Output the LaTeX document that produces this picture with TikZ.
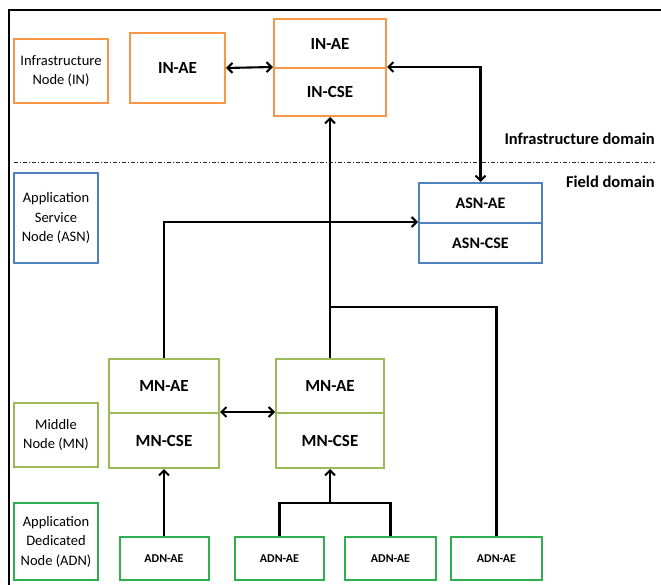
\documentclass[tikz,border=0pt]{standalone}
\usepackage{fontspec}
\setmainfont{Carlito}
\usetikzlibrary{arrows.meta}
\definecolor{inorange}{HTML}{F79646}
\definecolor{asnblue}{HTML}{4F81BD}
\definecolor{mngreen}{HTML}{9BBB59}
\definecolor{adngreen}{HTML}{2EAF50}
\tikzset{
  box/.style={draw, line width=2pt, inner sep=0pt, align=center, fill=white, text=black},
  lbl/.style={box, font=\fontsize{14.5}{19.5}\selectfont},
  big/.style={box, font=\fontsize{17}{19}\selectfont\bfseries},
  small/.style={box, font=\fontsize{12}{14}\selectfont\bfseries},
  conn/.style={line width=2.1pt, black},
  tip/.style={-{Straight Barb[length=5pt,width=10pt]}},
  dtip/.style={{Straight Barb[length=5pt,width=10pt]}-{Straight Barb[length=5pt,width=10pt]}},
  dom/.style={font=\fontsize{16.5}{18}\selectfont\bfseries, anchor=east, inner sep=0pt}
}
\begin{document}
\begin{tikzpicture}[x=1pt, y=-1pt]
\useasboundingbox (0,0) rectangle (661,585);
% frame
\coordinate (fb) at (9,585);
\coordinate (fc) at (9,10);
\coordinate (fr) at (661,10);
\draw[line width=2.5pt] (fb) -- (fc) -- (fr);
% domain separator
\coordinate (dl) at (14,162);
\coordinate (dr) at (655,162);
\draw[line width=0.9pt, black!85, dash pattern=on 4pt off 2pt on 1pt off 2pt] (dl) -- (dr);
\node[dom] (infdom) at (655,139) {Infrastructure domain};
\node[dom] (fielddom) at (655,182) {Field domain};
% left labels
\node[lbl, draw=inorange, minimum width=94pt, minimum height=64pt] (lblin) at (61,71) {Infrastructure\\Node (IN)};
\node[lbl, draw=asnblue, minimum width=84pt, minimum height=90pt] (lblasn) at (56,218) {Application\\Service\\Node (ASN)};
\node[lbl, draw=mngreen, minimum width=84pt, minimum height=64pt] (lblmn) at (56,435) {Middle\\Node (MN)};
\node[lbl, draw=adngreen, minimum width=84pt, minimum height=77pt] (lbladn) at (56,541.5) {Application\\Dedicated\\Node (ADN)};
% IN
\node[big, draw=inorange, minimum width=95pt, minimum height=70pt] (inae) at (177.5,68) {IN-AE};
\node[big, draw=inorange, minimum width=112pt, minimum height=49pt] (inae2) at (330,43.5) {IN-AE};
\node[big, draw=inorange, minimum width=112pt, minimum height=48pt] (incse) at (330,92) {IN-CSE};
% ASN
\node[big, draw=asnblue, minimum width=123pt, minimum height=40pt, font=\fontsize{16}{18}\selectfont\bfseries] (asnae) at (480.5,203) {ASN-AE};
\node[big, draw=asnblue, minimum width=123pt, minimum height=40pt, font=\fontsize{16}{18}\selectfont\bfseries] (asncse) at (480.5,243) {ASN-CSE};
% MN
\node[big, draw=mngreen, minimum width=110pt, minimum height=54pt] (mnae1) at (164,386) {MN-AE};
\node[big, draw=mngreen, minimum width=110pt, minimum height=55pt] (mncse1) at (164,440.5) {MN-CSE};
\node[big, draw=mngreen, minimum width=108pt, minimum height=54pt] (mnae2) at (330,386) {MN-AE};
\node[big, draw=mngreen, minimum width=108pt, minimum height=55pt] (mncse2) at (330,440.5) {MN-CSE};
% ADN
\node[small, draw=adngreen, minimum width=89pt, minimum height=43pt] (adn1) at (164,558.5) {ADN-AE};
\node[small, draw=adngreen, minimum width=89pt, minimum height=43pt] (adn2) at (279.5,558.5) {ADN-AE};
\node[small, draw=adngreen, minimum width=91pt, minimum height=43pt] (adn3) at (390.5,558.5) {ADN-AE};
\node[small, draw=adngreen, minimum width=91pt, minimum height=43pt] (adn4) at (496.5,558.5) {ADN-AE};
% connectors
\coordinate (j1) at (330,307);
\coordinate (j2) at (330,503);
\draw[conn, dtip] (inae.east) -- (incse.north west);
\draw[conn, dtip] (incse.north east) -| (asnae.north);
\draw[conn, tip] (mnae1.north) |- (asncse.north west);
\draw[conn, tip] (mnae2.north) -- (incse.south);
\draw[conn] (j1) -| (adn4.north);
\draw[conn, tip] (adn1.north) -- (mncse1.south);
\draw[conn] (adn2.north) |- (j2) -| (adn3.north);
\draw[conn, tip] (j2) -- (mncse2.south);
\draw[conn, dtip] (mncse1.north east) -- (mncse2.north west);
\end{tikzpicture}
\end{document}
